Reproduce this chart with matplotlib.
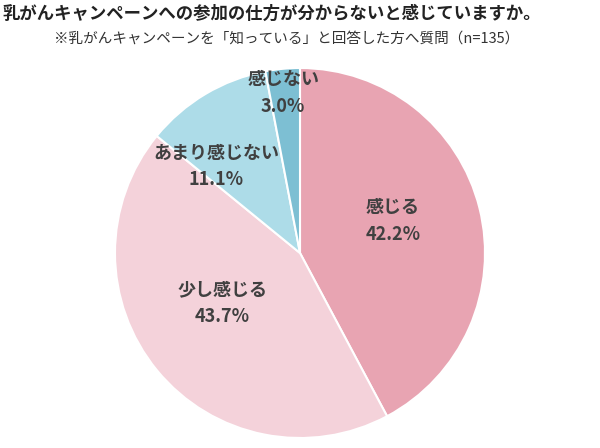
import matplotlib
matplotlib.use("Agg")
import matplotlib.pyplot as plt
import numpy as np

categories = ["感じる", "少し感じる", "あまり感じない", "感じない"]
values = [42.2, 43.7, 11.1, 3.0]
colors = ["#E8A4B2", "#F4D2DA", "#ADDCE8", "#7DBFD3"]

# label placement (angle in degrees, radius fraction)
label_angles = [19, 213, 134, 96]
label_radii = [0.53, 0.50, 0.65, 0.87]

plt.rcParams["font.family"] = "Noto Sans CJK JP"
fig = plt.figure(figsize=(6, 4.48), dpi=100)
ax = fig.add_axes([115/600, 10/448, 370/600, 370/448])
ax.pie(values, colors=colors, startangle=90, counterclock=False,
       wedgeprops=dict(edgecolor="white", linewidth=1.5))
ax.set_aspect("equal")
ax.set_xlim(-1, 1); ax.set_ylim(-1, 1)

for cat, v, a, r in zip(categories, values, label_angles, label_radii):
    x = r*np.cos(np.radians(a)); y = r*np.sin(np.radians(a))
    ax.text(x, y, f"{cat}\n{v:.1f}%", ha="center", va="center",
            fontsize=13, fontweight="bold", color="#404040", linespacing=1.5)

fig.text(0.005, 0.99, "乳がんキャンペーンへの参加の仕方が分からないと感じていますか。",
         ha="left", va="top", fontsize=12.5, fontweight="bold", color="#222222")
fig.text(0.09, 0.93, "※乳がんキャンペーンを「知っている」と回答した方へ質問（n=135）",
         ha="left", va="top", fontsize=10.5, color="#333333")
fig.savefig("out.png", dpi=100)
